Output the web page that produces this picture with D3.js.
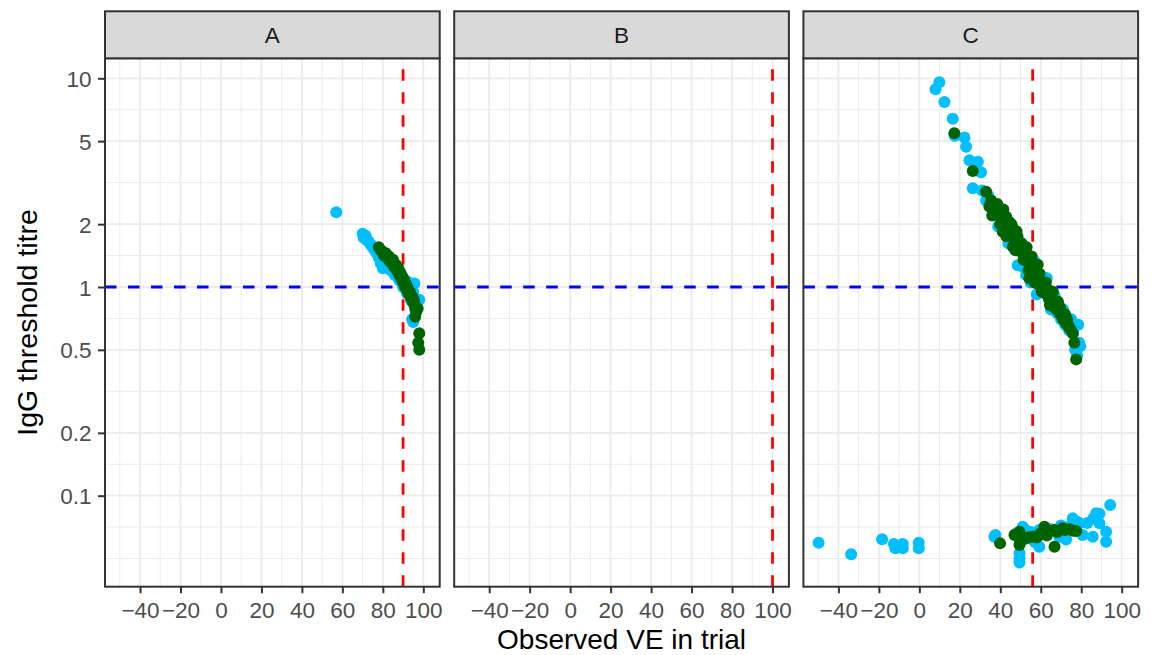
<!DOCTYPE html>
<html>
<head>
<meta charset="utf-8">
<script src="https://cdn.jsdelivr.net/npm/d3@7"></script>
<style>
  body { margin: 0; background: #fff; }
  svg { font-family: "Liberation Sans", Arial, Helvetica, sans-serif; }
</style>
</head>
<body>
<div id="chart"></div>
<script>
// facet labels and reference lines
var panelNames = ["A", "B", "C"];
var vLineVE = [90, 100, 56];
var hLineTitre = 1;

var xTicks = [-40, -20, 0, 20, 40, 60, 80, 100];
var xMinor = [-50, -30, -10, 10, 30, 50, 70, 90];
var yTicks = [0.1, 0.2, 0.5, 1, 2, 5, 10];

// [observed VE, threshold titre]
var aBlue = [[57,2.28],[70,1.8],[70.5,1.72],[71.5,1.76],[72,1.68],[73,1.65],[74,1.6],[75,1.55],[76,1.5],[77,1.45],
  [78,1.38],[79,1.3],[80,1.23],[81,1.4],[82,1.36],[83,1.32],[84,1.2],[85,1.27],[86,1.14],[87,1.22],[88,1.08],
  [89,1.15],[90,1.0],[91,1.08],[92,0.93],[93,1.05],[94,0.86],[95,0.95],[95.6,1.04],[96,0.78],[97,0.85],[98,0.87],
  [94.5,0.7],[95,0.68]];
var aGreen = [[78,1.55],[79,1.5],[80,1.47],[80.5,1.42],[81.5,1.45],[82,1.38],[83,1.4],[83.5,1.33],[84.5,1.3],[85,1.35],
  [85.5,1.25],[86.5,1.28],[87,1.2],[87.5,1.24],[88,1.15],[88.5,1.18],[89,1.1],[89.5,1.13],[90,1.05],[90.5,1.08],
  [91,1.0],[91.5,1.03],[92,0.96],[92.5,0.98],[93,0.92],[93.5,0.94],[94,0.88],[94.5,0.9],[95,0.84],[95.5,0.86],
  [96,0.8],[96.5,0.76],[96,0.72],[97.2,0.79],[98,0.6],[97.5,0.54],[98,0.5]];
var bBlue = [];
var bGreen = [];
var cBlue = [[8,8.86],[9.9,9.57],[12.4,7.7],[16.5,6.4],[17.5,5.3],[22.3,5.2],[23.1,4.7],[24.8,4.05],[28.9,3.98],
  [30.5,3.55],[26.4,2.97],[31,2.9],[33,2.6],[34,2.75],[35,2.45],[37,2.3],[38,2.4],[39,1.95],[40,2.1],[41,2.25],
  [42,1.95],[43,1.85],[44,2.0],[44,1.62],[45,1.7],[46,1.6],[47,1.75],[48.6,1.27],[50,1.5],[51,1.25],[52,1.4],
  [52.8,1.14],[54,1.3],[55,1.05],[56,1.2],[57,1.32],[58,1.1],[58,0.92],[60,1.0],[61,1.12],[62,0.94],[63,1.1],
  [64,0.88],[65,0.78],[66,0.82],[67,0.9],[68,0.75],[70,0.7],[71,0.78],[72,0.66],[74,0.62],[74,0.7],[75,0.7],
  [76,0.6],[78.5,0.66],[79,0.54],[79.5,0.52],[78,0.47],[77,0.5],
  [-49.8,0.0595],[-33.7,0.0524],[-18.4,0.0618],[-12.6,0.0587],[-11.8,0.056],[-8.2,0.0587],[-8.2,0.056],
  [-0.3,0.0595],[-0.3,0.056],[37.1,0.0636],[37.6,0.0648],[48,0.066],[49.5,0.053],[49.5,0.0478],[49.5,0.05],
  [51.1,0.071],[53,0.068],[55,0.067],[57,0.06],[59.3,0.0685],[59.3,0.057],[62,0.07],[65,0.069],[69.2,0.0636],
  [70,0.072],[72.5,0.0617],[74,0.071],[75.8,0.078],[78,0.075],[79.1,0.0738],[80.7,0.0648],[83,0.074],
  [85.7,0.0636],[86,0.078],[87.4,0.0824],[89,0.0738],[89,0.082],[92.3,0.0672],[92.3,0.0602],[94.3,0.0902]];
var cGreen = [[17.3,5.45],[26.4,3.6],[33,2.86],[34.6,2.43],[35.5,2.6],[36,2.2],[37,2.5],[38,2.35],[38.5,2.5],
  [39.6,2.34],[40,2.0],[40.5,2.2],[41.2,1.84],[41.5,2.35],[42,2.05],[42.9,2.17],[43,1.75],[43.5,1.95],[44,1.9],
  [44.5,2.05],[45,1.8],[45.5,2.0],[46.2,1.91],[46.2,1.56],[47,1.7],[47.5,1.5],[48,1.65],[48,1.85],[48.5,1.75],
  [49.5,1.55],[50,1.5],[50.5,1.62],[51,1.45],[51.5,1.35],[52,1.5],[52.8,1.4],[53,1.55],[53.5,1.32],[54,1.2],
  [54.4,1.1],[55,1.28],[55.5,1.4],[56,1.25],[56.5,1.18],[57,1.05],[57.5,1.2],[58,1.08],[58.5,1.28],[59.3,1.16],
  [59.5,1.02],[60,1.06],[60.5,0.95],[61,0.97],[61.5,1.0],[62,0.94],[62.5,1.05],[63,0.92],[63.5,0.97],[64,0.88],
  [64.5,0.82],[65,0.9],[65.9,0.87],[66,0.95],[66.5,0.8],[67,0.84],[68,0.78],[68.5,0.85],[69.2,0.75],[69.5,0.8],
  [70,0.76],[70.5,0.72],[71,0.7],[72,0.74],[72.5,0.67],[73,0.7],[73.5,0.66],[74,0.64],[75,0.62],[75.8,0.6],
  [76.6,0.54],[77.5,0.45],
  [39.9,0.0591],[47,0.0648],[49.5,0.0672],[49.5,0.058],[49.5,0.062],[52,0.062],[54,0.063],[56,0.0636],[58,0.063],
  [59.3,0.0648],[60,0.066],[61.8,0.071],[63,0.0645],[64,0.068],[66.8,0.057],[66.8,0.0685],[68,0.067],
  [70.9,0.0698],[72,0.0685],[74.2,0.069],[76,0.068],[77.5,0.0677]];

var blueSeries = [aBlue, bBlue, cBlue];
var greenSeries = [aGreen, bGreen, cGreen];

var svgWidth = 1155;
var svgHeight = 655;

var panelLeft = 105;
var panelTop = 58.3;
var panelW = 334.7;
var panelH = 528.4;
var panelGap = 14.5;
var stripH = 47;

var svg = d3.select("#chart")
  .append("svg")
  .attr("width", svgWidth)
  .attr("height", svgHeight);

var x = d3.scaleLinear()
  .domain([-57.3, 108.1])
  .range([0, panelW]);

var y = d3.scaleLog()
  .domain([0.03664, 12.47])
  .range([panelH, 0]);

// minor breaks sit half way between the majors in log space
var yMinor = [yTicks[0] * yTicks[0] / yTicks[1], Math.sqrt(yTicks[0] * yTicks[0] * yTicks[0] / yTicks[1])];
for (var i = 0; i < yTicks.length - 1; i++) {
  yMinor.push(Math.sqrt(yTicks[i] * yTicks[i + 1]));
}

panelNames.forEach(function(name, p) {
  var left = panelLeft + p * (panelW + panelGap);
  var g = svg.append("g")
    .attr("transform", `translate(${left}, ${panelTop})`);

  g.append("clipPath").attr("id", "clip" + p)
    .append("rect").attr("width", panelW).attr("height", panelH);

  var grid = g.append("g");
  grid.selectAll(".xminor").data(xMinor).enter().append("line")
    .attr("x1", d => x(d)).attr("x2", d => x(d))
    .attr("y1", 0).attr("y2", panelH)
    .attr("stroke", "#ebebeb").attr("stroke-width", 1);
  grid.selectAll(".yminor").data(yMinor.filter(d => y(d) > 0 && y(d) < panelH)).enter().append("line")
    .attr("x1", 0).attr("x2", panelW)
    .attr("y1", d => y(d)).attr("y2", d => y(d))
    .attr("stroke", "#ebebeb").attr("stroke-width", 1);
  grid.selectAll(".xmajor").data(xTicks).enter().append("line")
    .attr("x1", d => x(d)).attr("x2", d => x(d))
    .attr("y1", 0).attr("y2", panelH)
    .attr("stroke", "#ebebeb").attr("stroke-width", 1.8);
  grid.selectAll(".ymajor").data(yTicks).enter().append("line")
    .attr("x1", 0).attr("x2", panelW)
    .attr("y1", d => y(d)).attr("y2", d => y(d))
    .attr("stroke", "#ebebeb").attr("stroke-width", 1.8);

  var layer = g.append("g").attr("clip-path", `url(#clip${p})`);

  layer.append("line")
    .attr("x1", x(vLineVE[p])).attr("x2", x(vLineVE[p]))
    .attr("y1", panelH).attr("y2", 0)
    .attr("stroke", "#ff0000").attr("stroke-width", 2.8)
    .attr("stroke-dasharray", "11.5,11.5");

  layer.append("line")
    .attr("x1", 0).attr("x2", panelW)
    .attr("y1", y(hLineTitre)).attr("y2", y(hLineTitre))
    .attr("stroke", "#0000ff").attr("stroke-width", 2.8)
    .attr("stroke-dasharray", "11.5,11.5");

  layer.selectAll(".blue").data(blueSeries[p]).enter().append("circle")
    .attr("cx", d => x(d[0]))
    .attr("cy", d => y(d[1]))
    .attr("r", 6)
    .attr("fill", "#00bfff");

  layer.selectAll(".green").data(greenSeries[p]).enter().append("circle")
    .attr("cx", d => x(d[0]))
    .attr("cy", d => y(d[1]))
    .attr("r", 6)
    .attr("fill", "#006400");

  g.append("rect")
    .attr("width", panelW).attr("height", panelH)
    .attr("fill", "none").attr("stroke", "#333333").attr("stroke-width", 2);

  // strip
  g.append("rect")
    .attr("y", -stripH).attr("width", panelW).attr("height", stripH)
    .attr("fill", "#d9d9d9").attr("stroke", "#333333").attr("stroke-width", 2);
  g.append("text")
    .attr("x", panelW / 2).attr("y", -15.5)
    .attr("text-anchor", "middle")
    .attr("font-size", "22.5px")
    .attr("fill", "#1a1a1a")
    .text(name);

  // x axis
  var xAxis = g.append("g")
    .attr("transform", `translate(0, ${panelH})`)
    .call(d3.axisBottom(x).tickValues(xTicks).tickSize(6.5).tickSizeOuter(0));
  xAxis.select(".domain").remove();
  xAxis.selectAll("line").attr("stroke", "#333333").attr("stroke-width", 2);
  xAxis.selectAll("text")
    .attr("y", 31.5).attr("dy", 0)
    .attr("font-size", "22.5px")
    .attr("fill", "#4d4d4d")
    .style("font-family", "'Liberation Sans', Arial, sans-serif");

  if (p === 0) {
    var yAxis = g.append("g")
      .call(d3.axisLeft(y).tickValues(yTicks).tickFormat(d => String(d)).tickSize(7).tickSizeOuter(0).tickPadding(6.5));
    yAxis.select(".domain").remove();
    yAxis.selectAll("line").attr("stroke", "#333333").attr("stroke-width", 2);
    yAxis.selectAll("text")
      .attr("dy", "0.36em")
      .attr("font-size", "22.5px")
      .attr("fill", "#4d4d4d")
      .style("font-family", "'Liberation Sans', Arial, sans-serif");
  }
});

var plotLeft = panelLeft;
var plotRight = panelLeft + 3 * panelW + 2 * panelGap;

svg.append("text")
  .attr("x", (plotLeft + plotRight) / 2)
  .attr("y", 648.5)
  .attr("text-anchor", "middle")
  .attr("font-size", "28px")
  .attr("fill", "#000")
  .text("Observed VE in trial");

svg.append("text")
  .attr("transform", `translate(37, ${panelTop + panelH / 2}) rotate(-90)`)
  .attr("text-anchor", "middle")
  .attr("font-size", "28.5px")
  .attr("fill", "#000")
  .text("IgG threshold titre");
</script>
</body>
</html>
